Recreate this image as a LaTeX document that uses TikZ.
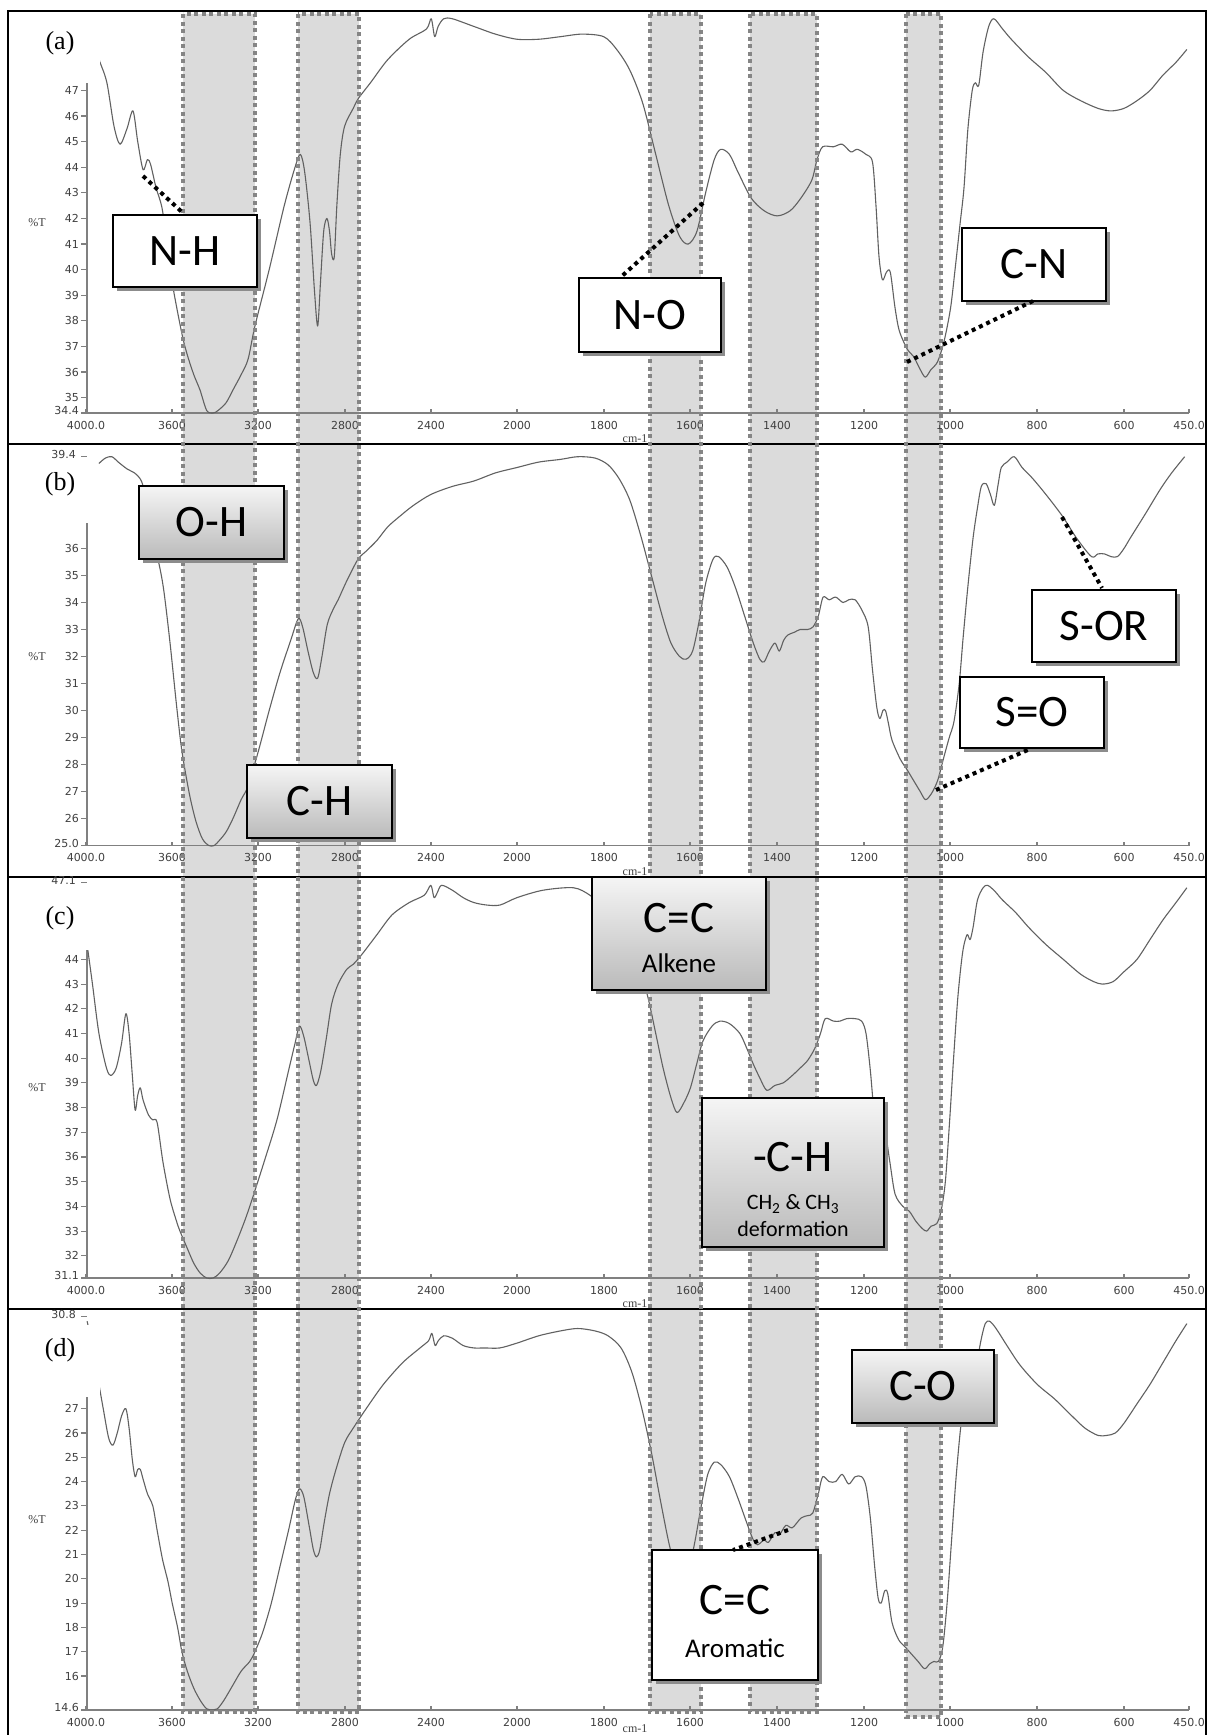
\documentclass[tikz,border=0pt]{standalone}
\usepackage{fontspec}
\setmainfont{Liberation Serif}
\newfontfamily\boxfont{Carlito}
\newfontfamily\tickfont{DejaVu Sans}
\usetikzlibrary{shadows}
\tikzset{
 bandfill/.style={fill=black!14, draw=none},
 bandline/.style={draw=black!48, line width=4pt, dash pattern=on 4pt off 3.5pt},
 frameline/.style={draw=black, line width=2pt},
 axisline/.style={draw=black!50, line width=1.1pt},
 spec/.style={draw=black!62, line width=1.1pt, line join=round},
 ylab/.style={font=\tickfont\fontsize{11}{11}\selectfont, text=black!75, anchor=east, inner sep=0pt},
 xlab/.style={font=\tickfont\fontsize{11}{11}\selectfont, text=black!75, anchor=north, inner sep=0pt},
 cmlab/.style={font=\fontsize{12}{12}\selectfont, text=black!75, inner sep=0pt},
 tlab/.style={font=\fontsize{12}{12}\selectfont, text=black!75, inner sep=0pt},
 plab/.style={font=\fontsize{26}{26}\selectfont, inner sep=0pt},
 shad/.style={drop shadow={shadow xshift=4pt, shadow yshift=-4pt, fill=black!45, opacity=1}},
 wbox/.style={shad, draw=black, line width=1.6pt, fill=white, inner sep=0pt},
 gbox/.style={shad, draw=black, line width=1.6pt, top color=black!4, bottom color=black!27, inner sep=0pt},
 bigtxt/.style={font=\boxfont\fontsize{45}{45}\selectfont},
 midtxt/.style={font=\boxfont\fontsize{27}{27}\selectfont, inner sep=0pt},
 smltxt/.style={font=\boxfont\fontsize{22}{22}\selectfont, inner sep=0pt},
 leader/.style={draw=black, line width=4pt, dash pattern=on 4pt off 4pt},
}
\newcommand\xrow[3]{%
 \draw[axisline] (86,#1) -- (1189,#1);
 \foreach \xx/\lab [count=\i] in {86/4000.0,172/3600,258/3200,345/2800,431/2400,517/2000,604/1800,690/1600,777/1400,864/1200,950/1000,1037/800,1124/600,1189/450.0}{
   \draw[axisline] (\xx,#1) -- (\xx,#1-4);
   \node[xlab] (lx#2\i) at (\xx,#1+8) {\lab};}
 \node[cmlab] (cm#2) at (635,#1+#3) {cm-1};
}
\begin{document}
\begin{tikzpicture}[x=1pt,y=-1pt,
 declare function={
  wx(\w)=ifthenelse(\w>1999.99,86+(4000-\w)*0.2155,517+(2000-\w)*0.43355);
  ta(\t)=413-(\t-34.4)*25.6;
  tb(\t)=845.5-(\t-25)*27;
  tc(\t)=1278-(\t-31.1)*24.7;
  td(\t)=1710-(\t-14.6)*24.3;
 }]
\useasboundingbox (0,0) rectangle (1208,1735);
\clip (0,0) rectangle (1208,1735);
\fill[white] (0,0) rectangle (1208,1735);

% bands (fill)
\fill[bandfill] (183,14) rectangle (255,1712);
\fill[bandfill] (298,14) rectangle (359,1712);
\fill[bandfill] (650,14) rectangle (701,1712);
\fill[bandfill] (750,14) rectangle (817,1712);
\fill[bandfill] (906,14) rectangle (941,1717);

% frame
\draw[frameline] (8,1736) -- (8,11) -- (1206,11) -- (1206,1736);
\draw[frameline] (8,444) -- (1206,444);
\draw[frameline] (8,877) -- (1206,877);
\draw[frameline] (8,1309) -- (1206,1309);

% ---------- panel a axes
\draw[axisline] (87,83) -- (87,413);
\foreach \v in {35,...,47}{\draw[axisline] (81,{ta(\v)}) -- (87,{ta(\v)}); \node[ylab] (lya\v) at (79,{ta(\v)}) {\v};}
\draw[axisline] (81,413) -- (87,413); \node[ylab] (lya0) at (79,410) {34.4};
\xrow{413}{a}{26}
\node[tlab] (pta) at (37,223) {\%T};
% ---------- panel b axes
\draw[axisline] (87,523) -- (87,845.5);
\foreach \v in {26,...,36}{\draw[axisline] (81,{tb(\v)}) -- (87,{tb(\v)}); \node[ylab] (lyb\v) at (79,{tb(\v)}) {\v};}
\draw[axisline] (81,845.5) -- (87,845.5); \node[ylab] (lyb0) at (79,843) {25.0};
\draw[axisline] (81,{tb(39.4)}) -- (87,{tb(39.4)}); \node[ylab] (lyb1) at (76,{tb(39.4)-2}) {39.4};
\xrow{845.5}{b}{26}
\node[tlab] (ptb) at (37,657) {\%T};
% ---------- panel c axes
\draw[axisline] (87,950) -- (87,1278);
\foreach \v in {32,...,44}{\draw[axisline] (81,{tc(\v)}) -- (87,{tc(\v)}); \node[ylab] (lyc\v) at (79,{tc(\v)}) {\v};}
\draw[axisline] (81,1278) -- (87,1278); \node[ylab] (lyc0) at (79,1275) {31.1};
\draw[axisline] (81,{tc(47.1)}) -- (87,{tc(47.1)}); \node[ylab] (lyc1) at (76,{tc(47.1)-2}) {47.1};
\xrow{1278}{c}{26}
\node[tlab] (ptc) at (37,1088) {\%T};
% ---------- panel d axes
\draw[axisline] (87,1397) -- (87,1710);
\foreach \v in {16,...,27}{\draw[axisline] (81,{td(\v)}) -- (87,{td(\v)}); \node[ylab] (lyd\v) at (79,{td(\v)}) {\v};}
\draw[axisline] (81,1710) -- (87,1710); \node[ylab] (lyd0) at (79,1707) {14.6};
\draw[axisline] (81,{td(30.8)}) -- (87,{td(30.8)}); \node[ylab] (lyd1) at (76,{td(30.8)-2}) {30.8};
\xrow{1710}{d}{19}
\node[tlab] (ptd) at (37,1520) {\%T};

% ---------- spectra
\draw[spec] plot[smooth, tension=0.5] coordinates {
({wx(3990)},{ta(49.0)}) ({wx(3960)},{ta(48.7)}) ({wx(3935)},{ta(48.1)}) ({wx(3903)},{ta(47.3)}) ({wx(3870)},{ta(45.6)}) ({wx(3842)},{ta(44.9)}) ({wx(3810)},{ta(45.5)}) ({wx(3782)},{ta(46.2)}) ({wx(3760)},{ta(45.0)}) ({wx(3735)},{ta(43.9)}) ({wx(3715)},{ta(44.3)}) ({wx(3700)},{ta(44.1)}) ({wx(3675)},{ta(43.2)}) ({wx(3647)},{ta(42.4)}) ({wx(3620)},{ta(40.8)}) ({wx(3596)},{ta(39.3)}) ({wx(3555)},{ta(37.5)}) ({wx(3531)},{ta(36.7)}) ({wx(3500)},{ta(35.9)}) ({wx(3471)},{ta(35.3)}) ({wx(3440)},{ta(34.5)}) ({wx(3410)},{ta(34.4)}) ({wx(3387)},{ta(34.5)}) ({wx(3350)},{ta(34.8)}) ({wx(3318)},{ta(35.3)}) ({wx(3280)},{ta(35.9)}) ({wx(3248)},{ta(36.5)}) ({wx(3216)},{ta(37.8)}) ({wx(3150)},{ta(40.0)}) ({wx(3080)},{ta(42.5)}) ({wx(3030)},{ta(44.0)}) ({wx(3005)},{ta(44.5)}) ({wx(2985)},{ta(43.8)}) ({wx(2960)},{ta(41.8)}) ({wx(2940)},{ta(39.2)}) ({wx(2925)},{ta(37.8)}) ({wx(2912)},{ta(39.5)}) ({wx(2897)},{ta(41.5)}) ({wx(2882)},{ta(42.0)}) ({wx(2870)},{ta(41.5)}) ({wx(2860)},{ta(40.6)}) ({wx(2848)},{ta(40.5)}) ({wx(2836)},{ta(42.5)}) ({wx(2820)},{ta(44.5)}) ({wx(2800)},{ta(45.6)}) ({wx(2760)},{ta(46.3)}) ({wx(2735)},{ta(46.7)}) ({wx(2680)},{ta(47.3)}) ({wx(2600)},{ta(48.2)}) ({wx(2500)},{ta(49.0)}) ({wx(2420)},{ta(49.4)}) ({wx(2398)},{ta(49.8)}) ({wx(2382)},{ta(49.1)}) ({wx(2366)},{ta(49.5)}) ({wx(2340)},{ta(49.8)}) ({wx(2300)},{ta(49.8)}) ({wx(2200)},{ta(49.5)}) ({wx(2100)},{ta(49.2)}) ({wx(2000)},{ta(49.0)}) ({wx(1950)},{ta(49.0)}) ({wx(1900)},{ta(49.1)}) ({wx(1850)},{ta(49.2)}) ({wx(1800)},{ta(49.1)}) ({wx(1770)},{ta(48.6)}) ({wx(1740)},{ta(47.8)}) ({wx(1710)},{ta(46.5)}) ({wx(1680)},{ta(44.5)}) ({wx(1650)},{ta(42.5)}) ({wx(1625)},{ta(41.3)}) ({wx(1605)},{ta(41.0)}) ({wx(1585)},{ta(41.5)}) ({wx(1565)},{ta(43.0)}) ({wx(1545)},{ta(44.3)}) ({wx(1530)},{ta(44.7)}) ({wx(1510)},{ta(44.5)}) ({wx(1490)},{ta(43.8)}) ({wx(1460)},{ta(42.8)}) ({wx(1430)},{ta(42.3)}) ({wx(1400)},{ta(42.1)}) ({wx(1370)},{ta(42.3)}) ({wx(1345)},{ta(42.8)}) ({wx(1320)},{ta(43.5)}) ({wx(1308)},{ta(44.3)}) ({wx(1295)},{ta(44.8)}) ({wx(1270)},{ta(44.8)}) ({wx(1250)},{ta(44.9)}) ({wx(1230)},{ta(44.6)}) ({wx(1215)},{ta(44.7)}) ({wx(1195)},{ta(44.5)}) ({wx(1180)},{ta(44.2)}) ({wx(1172)},{ta(42.5)}) ({wx(1165)},{ta(40.5)}) ({wx(1157)},{ta(39.6)}) ({wx(1148)},{ta(39.9)}) ({wx(1139)},{ta(39.9)}) ({wx(1128)},{ta(38.5)}) ({wx(1118)},{ta(37.6)}) ({wx(1100)},{ta(36.9)}) ({wx(1085)},{ta(36.6)}) ({wx(1070)},{ta(36.1)}) ({wx(1058)},{ta(35.8)}) ({wx(1045)},{ta(36.1)}) ({wx(1030)},{ta(36.4)}) ({wx(1015)},{ta(37.2)}) ({wx(1000)},{ta(38.5)}) ({wx(989)},{ta(40.1)}) ({wx(978)},{ta(41.8)}) ({wx(969)},{ta(43.2)}) ({wx(960)},{ta(45.5)}) ({wx(950)},{ta(47.0)}) ({wx(943)},{ta(47.3)}) ({wx(935)},{ta(47.2)}) ({wx(925)},{ta(48.5)}) ({wx(912)},{ta(49.5)}) ({wx(900)},{ta(49.8)}) ({wx(880)},{ta(49.4)}) ({wx(860)},{ta(49.0)}) ({wx(820)},{ta(48.3)}) ({wx(780)},{ta(47.7)}) ({wx(740)},{ta(47.0)}) ({wx(700)},{ta(46.6)}) ({wx(660)},{ta(46.3)}) ({wx(630)},{ta(46.2)}) ({wx(600)},{ta(46.3)}) ({wx(570)},{ta(46.6)}) ({wx(540)},{ta(47.0)}) ({wx(510)},{ta(47.6)}) ({wx(480)},{ta(48.1)}) ({wx(455)},{ta(48.6)})};

\draw[spec] plot[smooth, tension=0.5] coordinates {
({wx(3940)},{tb(39.15)}) ({wx(3910)},{tb(39.35)}) ({wx(3880)},{tb(39.4)}) ({wx(3850)},{tb(39.2)}) ({wx(3810)},{tb(38.95)}) ({wx(3775)},{tb(38.8)}) ({wx(3750)},{tb(38.6)}) ({wx(3735)},{tb(38.3)}) ({wx(3715)},{tb(37.4)}) ({wx(3695)},{tb(36.4)}) ({wx(3666)},{tb(35.6)}) ({wx(3640)},{tb(34.5)}) ({wx(3610)},{tb(32.5)}) ({wx(3580)},{tb(30.2)}) ({wx(3555)},{tb(28.5)}) ({wx(3520)},{tb(26.9)}) ({wx(3490)},{tb(25.9)}) ({wx(3460)},{tb(25.25)}) ({wx(3430)},{tb(25.0)}) ({wx(3405)},{tb(25.0)}) ({wx(3380)},{tb(25.2)}) ({wx(3350)},{tb(25.5)}) ({wx(3318)},{tb(26.0)}) ({wx(3280)},{tb(26.7)}) ({wx(3248)},{tb(27.2)}) ({wx(3200)},{tb(28.5)}) ({wx(3150)},{tb(30.0)}) ({wx(3100)},{tb(31.4)}) ({wx(3050)},{tb(32.6)}) ({wx(3015)},{tb(33.4)}) ({wx(2995)},{tb(33.1)}) ({wx(2970)},{tb(32.2)}) ({wx(2945)},{tb(31.4)}) ({wx(2925)},{tb(31.2)}) ({wx(2905)},{tb(32.0)}) ({wx(2880)},{tb(33.2)}) ({wx(2850)},{tb(33.8)}) ({wx(2830)},{tb(34.1)}) ({wx(2790)},{tb(34.8)}) ({wx(2738)},{tb(35.6)}) ({wx(2700)},{tb(35.9)}) ({wx(2650)},{tb(36.3)}) ({wx(2600)},{tb(36.8)}) ({wx(2543)},{tb(37.2)}) ({wx(2480)},{tb(37.6)}) ({wx(2400)},{tb(38.0)}) ({wx(2300)},{tb(38.3)}) ({wx(2200)},{tb(38.5)}) ({wx(2100)},{tb(38.8)}) ({wx(2000)},{tb(39.0)}) ({wx(1950)},{tb(39.2)}) ({wx(1900)},{tb(39.3)}) ({wx(1860)},{tb(39.4)}) ({wx(1820)},{tb(39.35)}) ({wx(1790)},{tb(39.1)}) ({wx(1765)},{tb(38.6)}) ({wx(1740)},{tb(37.8)}) ({wx(1715)},{tb(36.5)}) ({wx(1690)},{tb(35.0)}) ({wx(1665)},{tb(33.5)}) ({wx(1645)},{tb(32.5)}) ({wx(1625)},{tb(32.0)}) ({wx(1610)},{tb(31.9)}) ({wx(1595)},{tb(32.2)}) ({wx(1580)},{tb(33.3)}) ({wx(1565)},{tb(34.7)}) ({wx(1548)},{tb(35.6)}) ({wx(1535)},{tb(35.7)}) ({wx(1515)},{tb(35.3)}) ({wx(1495)},{tb(34.5)}) ({wx(1475)},{tb(33.5)}) ({wx(1455)},{tb(32.5)}) ({wx(1440)},{tb(31.9)}) ({wx(1430)},{tb(31.8)}) ({wx(1418)},{tb(32.2)}) ({wx(1405)},{tb(32.5)}) ({wx(1395)},{tb(32.2)}) ({wx(1385)},{tb(32.6)}) ({wx(1375)},{tb(32.8)}) ({wx(1360)},{tb(32.9)}) ({wx(1347)},{tb(33.0)}) ({wx(1330)},{tb(33.0)}) ({wx(1317)},{tb(33.1)}) ({wx(1305)},{tb(33.5)}) ({wx(1294)},{tb(34.2)}) ({wx(1280)},{tb(34.1)}) ({wx(1265)},{tb(34.2)}) ({wx(1248)},{tb(34.0)}) ({wx(1235)},{tb(34.1)}) ({wx(1220)},{tb(34.1)}) ({wx(1204)},{tb(33.7)}) ({wx(1190)},{tb(33.1)}) ({wx(1180)},{tb(31.5)}) ({wx(1170)},{tb(30.1)}) ({wx(1163)},{tb(29.7)}) ({wx(1156)},{tb(30.0)}) ({wx(1150)},{tb(30.0)}) ({wx(1143)},{tb(29.5)}) ({wx(1135)},{tb(28.9)}) ({wx(1116)},{tb(28.2)}) ({wx(1100)},{tb(27.8)}) ({wx(1085)},{tb(27.4)}) ({wx(1070)},{tb(27.0)}) ({wx(1058)},{tb(26.7)}) ({wx(1045)},{tb(26.9)}) ({wx(1030)},{tb(27.4)}) ({wx(1015)},{tb(28.3)}) ({wx(1003)},{tb(29.0)}) ({wx(992)},{tb(29.6)}) ({wx(980)},{tb(31.0)}) ({wx(971)},{tb(32.7)}) ({wx(960)},{tb(34.6)}) ({wx(948)},{tb(36.4)}) ({wx(938)},{tb(37.5)}) ({wx(929)},{tb(38.3)}) ({wx(918)},{tb(38.4)}) ({wx(908)},{tb(38.0)}) ({wx(899)},{tb(37.6)}) ({wx(890)},{tb(38.4)}) ({wx(883)},{tb(39.0)}) ({wx(870)},{tb(39.2)}) ({wx(853)},{tb(39.4)}) ({wx(835)},{tb(39.0)}) ({wx(811)},{tb(38.6)}) ({wx(780)},{tb(38.0)}) ({wx(742)},{tb(37.2)}) ({wx(710)},{tb(36.4)}) ({wx(675)},{tb(35.7)}) ({wx(660)},{tb(35.8)}) ({wx(645)},{tb(35.8)}) ({wx(630)},{tb(35.7)}) ({wx(615)},{tb(35.7)}) ({wx(600)},{tb(36.0)}) ({wx(585)},{tb(36.4)}) ({wx(550)},{tb(37.3)}) ({wx(516)},{tb(38.2)}) ({wx(490)},{tb(38.8)}) ({wx(460)},{tb(39.4)})};

\draw[spec] plot[smooth, tension=0.5] coordinates {
({wx(3995)},{tc(44.6)}) ({wx(3970)},{tc(43.0)}) ({wx(3940)},{tc(41.0)}) ({wx(3905)},{tc(39.6)}) ({wx(3885)},{tc(39.3)}) ({wx(3860)},{tc(39.6)}) ({wx(3835)},{tc(40.6)}) ({wx(3815)},{tc(41.8)}) ({wx(3800)},{tc(41.0)}) ({wx(3785)},{tc(39.3)}) ({wx(3772)},{tc(37.9)}) ({wx(3760)},{tc(38.5)}) ({wx(3748)},{tc(38.8)}) ({wx(3735)},{tc(38.3)}) ({wx(3710)},{tc(37.7)}) ({wx(3690)},{tc(37.5)}) ({wx(3670)},{tc(37.4)}) ({wx(3643)},{tc(35.8)}) ({wx(3610)},{tc(34.3)}) ({wx(3580)},{tc(33.4)}) ({wx(3564)},{tc(33.0)}) ({wx(3530)},{tc(32.3)}) ({wx(3500)},{tc(31.7)}) ({wx(3470)},{tc(31.3)}) ({wx(3440)},{tc(31.1)}) ({wx(3410)},{tc(31.1)}) ({wx(3380)},{tc(31.3)}) ({wx(3340)},{tc(31.8)}) ({wx(3300)},{tc(32.6)}) ({wx(3260)},{tc(33.5)}) ({wx(3225)},{tc(34.4)}) ({wx(3170)},{tc(35.9)}) ({wx(3114)},{tc(37.5)}) ({wx(3060)},{tc(39.5)}) ({wx(3030)},{tc(40.6)}) ({wx(3010)},{tc(41.3)}) ({wx(2990)},{tc(40.9)}) ({wx(2965)},{tc(39.9)}) ({wx(2945)},{tc(39.1)}) ({wx(2930)},{tc(38.9)}) ({wx(2910)},{tc(39.5)}) ({wx(2885)},{tc(40.8)}) ({wx(2860)},{tc(42.2)}) ({wx(2830)},{tc(43.0)}) ({wx(2790)},{tc(43.6)}) ({wx(2760)},{tc(43.8)}) ({wx(2720)},{tc(44.2)}) ({wx(2650)},{tc(45.0)}) ({wx(2580)},{tc(45.8)}) ({wx(2500)},{tc(46.3)}) ({wx(2430)},{tc(46.6)}) ({wx(2400)},{tc(47.0)}) ({wx(2385)},{tc(46.5)}) ({wx(2370)},{tc(46.7)}) ({wx(2350)},{tc(47.0)}) ({wx(2300)},{tc(46.8)}) ({wx(2250)},{tc(46.5)}) ({wx(2200)},{tc(46.3)}) ({wx(2140)},{tc(46.2)}) ({wx(2079)},{tc(46.2)}) ({wx(2000)},{tc(46.5)}) ({wx(1940)},{tc(46.8)}) ({wx(1870)},{tc(46.9)}) ({wx(1832)},{tc(46.6)}) ({wx(1800)},{tc(46.1)}) ({wx(1760)},{tc(45.5)}) ({wx(1730)},{tc(44.3)}) ({wx(1700)},{tc(42.6)}) ({wx(1680)},{tc(41.0)}) ({wx(1663)},{tc(39.6)}) ({wx(1645)},{tc(38.4)}) ({wx(1631)},{tc(37.8)}) ({wx(1615)},{tc(38.2)}) ({wx(1600)},{tc(38.8)}) ({wx(1585)},{tc(39.8)}) ({wx(1571)},{tc(40.7)}) ({wx(1550)},{tc(41.3)}) ({wx(1532)},{tc(41.5)}) ({wx(1510)},{tc(41.4)}) ({wx(1486)},{tc(41.0)}) ({wx(1470)},{tc(40.4)}) ({wx(1456)},{tc(39.8)}) ({wx(1440)},{tc(39.2)}) ({wx(1424)},{tc(38.7)}) ({wx(1405)},{tc(38.9)}) ({wx(1386)},{tc(39.0)}) ({wx(1365)},{tc(39.3)}) ({wx(1347)},{tc(39.6)}) ({wx(1330)},{tc(39.9)}) ({wx(1313)},{tc(40.4)}) ({wx(1300)},{tc(41.0)}) ({wx(1289)},{tc(41.6)}) ({wx(1270)},{tc(41.5)}) ({wx(1255)},{tc(41.5)}) ({wx(1240)},{tc(41.6)}) ({wx(1220)},{tc(41.6)}) ({wx(1205)},{tc(41.5)}) ({wx(1195)},{tc(41.0)}) ({wx(1185)},{tc(39.5)}) ({wx(1175)},{tc(37.5)}) ({wx(1165)},{tc(36.5)}) ({wx(1158)},{tc(36.8)}) ({wx(1150)},{tc(36.9)}) ({wx(1140)},{tc(35.8)}) ({wx(1128)},{tc(34.5)}) ({wx(1110)},{tc(34.0)}) ({wx(1095)},{tc(33.8)}) ({wx(1080)},{tc(33.4)}) ({wx(1065)},{tc(33.1)}) ({wx(1055)},{tc(33.0)}) ({wx(1045)},{tc(33.2)}) ({wx(1032)},{tc(33.3)}) ({wx(1022)},{tc(33.8)}) ({wx(1012)},{tc(35.0)}) ({wx(1002)},{tc(37.5)}) ({wx(993)},{tc(40.0)}) ({wx(983)},{tc(42.5)}) ({wx(972)},{tc(44.3)}) ({wx(962)},{tc(45.0)}) ({wx(955)},{tc(44.8)}) ({wx(948)},{tc(45.3)}) ({wx(938)},{tc(46.4)}) ({wx(925)},{tc(46.9)}) ({wx(915)},{tc(47.0)}) ({wx(900)},{tc(46.8)}) ({wx(880)},{tc(46.4)}) ({wx(850)},{tc(45.9)}) ({wx(820)},{tc(45.3)}) ({wx(780)},{tc(44.6)}) ({wx(740)},{tc(44.0)}) ({wx(700)},{tc(43.4)}) ({wx(670)},{tc(43.1)}) ({wx(650)},{tc(43.0)}) ({wx(625)},{tc(43.1)}) ({wx(600)},{tc(43.5)}) ({wx(570)},{tc(44.0)}) ({wx(540)},{tc(44.8)}) ({wx(510)},{tc(45.6)}) ({wx(480)},{tc(46.3)}) ({wx(455)},{tc(46.9)})};

\draw[spec] plot[smooth, tension=0.5] coordinates {
({wx(3995)},{td(30.6)}) ({wx(3980)},{td(30.0)}) ({wx(3950)},{td(28.5)}) ({wx(3920)},{td(27.0)}) ({wx(3895)},{td(25.8)}) ({wx(3875)},{td(25.5)}) ({wx(3855)},{td(26.0)}) ({wx(3835)},{td(26.7)}) ({wx(3815)},{td(27.0)}) ({wx(3800)},{td(26.2)}) ({wx(3785)},{td(24.9)}) ({wx(3772)},{td(24.2)}) ({wx(3760)},{td(24.5)}) ({wx(3748)},{td(24.5)}) ({wx(3735)},{td(24.1)}) ({wx(3715)},{td(23.5)}) ({wx(3690)},{td(23.0)}) ({wx(3670)},{td(22.0)}) ({wx(3645)},{td(20.8)}) ({wx(3620)},{td(19.9)}) ({wx(3600)},{td(19.0)}) ({wx(3575)},{td(18.0)}) ({wx(3555)},{td(17.0)}) ({wx(3530)},{td(16.2)}) ({wx(3500)},{td(15.5)}) ({wx(3470)},{td(15.0)}) ({wx(3440)},{td(14.65)}) ({wx(3410)},{td(14.6)}) ({wx(3390)},{td(14.65)}) ({wx(3360)},{td(15.0)}) ({wx(3320)},{td(15.6)}) ({wx(3280)},{td(16.2)}) ({wx(3240)},{td(16.6)}) ({wx(3216)},{td(17.0)}) ({wx(3180)},{td(17.8)}) ({wx(3140)},{td(19.0)}) ({wx(3100)},{td(20.5)}) ({wx(3060)},{td(22.0)}) ({wx(3030)},{td(23.2)}) ({wx(3010)},{td(23.7)}) ({wx(2990)},{td(23.4)}) ({wx(2965)},{td(22.2)}) ({wx(2945)},{td(21.2)}) ({wx(2930)},{td(20.9)}) ({wx(2915)},{td(21.2)}) ({wx(2895)},{td(22.3)}) ({wx(2870)},{td(23.5)}) ({wx(2840)},{td(24.5)}) ({wx(2800)},{td(25.6)}) ({wx(2760)},{td(26.2)}) ({wx(2700)},{td(27.0)}) ({wx(2620)},{td(28.0)}) ({wx(2530)},{td(28.9)}) ({wx(2450)},{td(29.5)}) ({wx(2410)},{td(29.8)}) ({wx(2395)},{td(30.1)}) ({wx(2380)},{td(29.6)}) ({wx(2365)},{td(29.8)}) ({wx(2340)},{td(30.0)}) ({wx(2300)},{td(29.9)}) ({wx(2250)},{td(29.6)}) ({wx(2200)},{td(29.5)}) ({wx(2150)},{td(29.5)}) ({wx(2080)},{td(29.5)}) ({wx(2000)},{td(29.7)}) ({wx(1950)},{td(30.0)}) ({wx(1900)},{td(30.2)}) ({wx(1860)},{td(30.3)}) ({wx(1820)},{td(30.2)}) ({wx(1790)},{td(30.0)}) ({wx(1760)},{td(29.5)}) ({wx(1735)},{td(28.5)}) ({wx(1712)},{td(27.0)}) ({wx(1690)},{td(25.2)}) ({wx(1670)},{td(23.3)}) ({wx(1650)},{td(21.5)}) ({wx(1635)},{td(20.5)}) ({wx(1620)},{td(20.0)}) ({wx(1605)},{td(20.3)}) ({wx(1590)},{td(21.5)}) ({wx(1575)},{td(23.0)}) ({wx(1560)},{td(24.3)}) ({wx(1545)},{td(24.8)}) ({wx(1530)},{td(24.7)}) ({wx(1510)},{td(24.2)}) ({wx(1490)},{td(23.3)}) ({wx(1470)},{td(22.3)}) ({wx(1455)},{td(21.6)}) ({wx(1445)},{td(21.4)}) ({wx(1430)},{td(21.6)}) ({wx(1420)},{td(21.5)}) ({wx(1405)},{td(21.9)}) ({wx(1395)},{td(21.8)}) ({wx(1380)},{td(22.2)}) ({wx(1365)},{td(22.1)}) ({wx(1345)},{td(22.5)}) ({wx(1330)},{td(22.6)}) ({wx(1318)},{td(22.7)}) ({wx(1305)},{td(23.5)}) ({wx(1295)},{td(24.2)}) ({wx(1280)},{td(24.0)}) ({wx(1265)},{td(24.0)}) ({wx(1250)},{td(24.3)}) ({wx(1235)},{td(23.9)}) ({wx(1220)},{td(24.2)}) ({wx(1205)},{td(24.2)}) ({wx(1195)},{td(23.8)}) ({wx(1185)},{td(22.5)}) ({wx(1175)},{td(20.5)}) ({wx(1167)},{td(19.2)}) ({wx(1160)},{td(19.0)}) ({wx(1152)},{td(19.5)}) ({wx(1145)},{td(19.4)}) ({wx(1135)},{td(18.2)}) ({wx(1120)},{td(17.5)}) ({wx(1105)},{td(17.2)}) ({wx(1090)},{td(16.9)}) ({wx(1075)},{td(16.6)}) ({wx(1060)},{td(16.3)}) ({wx(1048)},{td(16.5)}) ({wx(1038)},{td(16.6)}) ({wx(1028)},{td(16.6)}) ({wx(1018)},{td(17.2)}) ({wx(1008)},{td(19.0)}) ({wx(998)},{td(21.5)}) ({wx(988)},{td(24.0)}) ({wx(978)},{td(26.0)}) ({wx(968)},{td(27.5)}) ({wx(958)},{td(28.2)}) ({wx(950)},{td(28.0)}) ({wx(942)},{td(28.6)}) ({wx(930)},{td(29.8)}) ({wx(920)},{td(30.5)}) ({wx(910)},{td(30.6)}) ({wx(895)},{td(30.3)}) ({wx(870)},{td(29.6)}) ({wx(840)},{td(28.8)}) ({wx(800)},{td(28.0)}) ({wx(760)},{td(27.4)}) ({wx(720)},{td(26.7)}) ({wx(690)},{td(26.2)}) ({wx(660)},{td(25.9)}) ({wx(640)},{td(25.9)}) ({wx(620)},{td(26.0)}) ({wx(600)},{td(26.4)}) ({wx(570)},{td(27.2)}) ({wx(540)},{td(28.0)}) ({wx(510)},{td(28.9)}) ({wx(480)},{td(29.8)}) ({wx(455)},{td(30.5)})};

% panel labels on white
\fill[white] (10,13) rectangle (100,83);
\node[plab] (pa) at (60,43) {(a)};
\fill[white] (10,465) rectangle (100,522);
\node[plab] (pb) at (60,484) {(b)};
\fill[white] (10,893) rectangle (100,950);
\node[plab] (pc) at (60,918) {(c)};
\fill[white] (10,1325) rectangle (100,1397);
\node[plab] (pd) at (60,1350) {(d)};

% band borders
\draw[bandline] (183,14) rectangle (255,1712);
\draw[bandline] (298,14) rectangle (359,1712);
\draw[bandline] (650,14) rectangle (701,1712);
\draw[bandline] (750,14) rectangle (817,1712);
\draw[bandline] (906,14) rectangle (941,1717);

% label boxes
\node[wbox, bigtxt, minimum width=144, minimum height=72] (nh) at (185,251) {N-H};
\node[wbox, bigtxt, minimum width=142, minimum height=74] (no) at (650,315) {N-O};
\node[wbox, bigtxt, minimum width=144, minimum height=73] (cn) at (1034,264.5) {C-N};
\node[gbox, bigtxt, minimum width=145, minimum height=73] (oh) at (211.5,522.5) {O-H};
\node[gbox, bigtxt, minimum width=145, minimum height=73] (ch) at (319.5,801.5) {C-H};
\node[wbox, bigtxt, minimum width=144, minimum height=72] (sor) at (1104,626) {S-OR};
\node[wbox, bigtxt, minimum width=144, minimum height=71] (so) at (1032,712.5) {S=O};
\node[gbox, minimum width=174, minimum height=113] (alk) at (679,933.5) {};
\node[bigtxt, inner sep=0pt] (alk1) at (679,918) {C=C};
\node[midtxt] (alk2) at (679,963) {Alkene};
\node[gbox, minimum width=182, minimum height=149] (cch) at (793,1172.5) {};
\node[bigtxt, inner sep=0pt] (cch1) at (793,1157) {-C-H};
\node[smltxt] (cch2) at (793,1204) {CH\textsubscript{2} \& CH\textsubscript{3}};
\node[smltxt] (cch3) at (793,1229) {deformation};
\node[gbox, bigtxt, minimum width=142, minimum height=73] (co) at (923,1386.5) {C-O};
\node[wbox, minimum width=166, minimum height=130] (aro) at (735,1615) {};
\node[bigtxt, inner sep=0pt] (aro1) at (735,1600) {C=C};
\node[midtxt] (aro2) at (735,1648) {Aromatic};

% leaders
\coordinate (nhA) at (143,176); \coordinate (nhB) at (183,213);
\coordinate (noA) at (703,203); \coordinate (noB) at (622,276);
\coordinate (cnA) at (907,362); \coordinate (cnB) at (1033,301);
\coordinate (sorA) at (1062,517); \coordinate (sorB) at (1102,588);
\coordinate (soA) at (936,790); \coordinate (soB) at (1030,749);
\coordinate (aroA) at (788,1530); \coordinate (aroB) at (733,1550);
\draw[leader] (nhA) -- (nhB);
\draw[leader] (noA) -- (noB);
\draw[leader] (cnA) -- (cnB);
\draw[leader] (sorA) -- (sorB);
\draw[leader] (soA) -- (soB);
\draw[leader] (aroA) -- (aroB);
\end{tikzpicture}
\end{document}
